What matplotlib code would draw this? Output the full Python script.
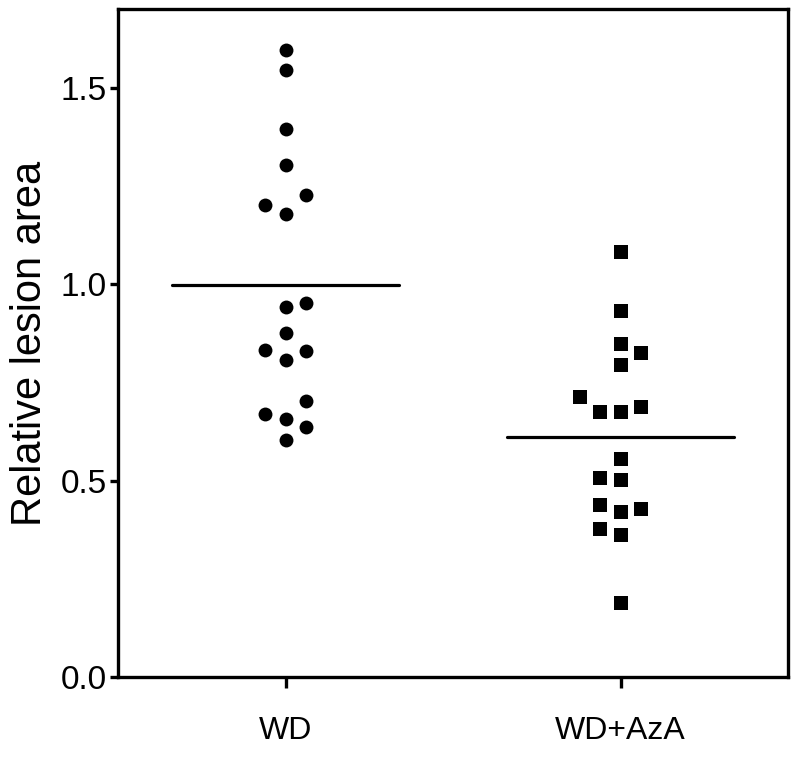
import matplotlib.pyplot as plt
import numpy as np

plt.rcParams['font.family'] = ['Liberation Sans', 'DejaVu Sans']

groups = ['WD', 'WD+AzA']

wd_values = [1.597, 1.545, 1.396, 1.304, 1.227, 1.202, 1.178, 0.953, 0.941,
             0.877, 0.833, 0.829, 0.806, 0.703, 0.670, 0.656, 0.637, 0.603]
wd_cols = [0, 0, 0, 0, 1, -1, 0, 1, 0, 0, -1, 1, 0, 1, -1, 0, 1, 0]

aza_values = [1.083, 0.931, 0.848, 0.826, 0.795, 0.714, 0.676, 0.676, 0.688,
              0.555, 0.506, 0.502, 0.438, 0.420, 0.429, 0.376, 0.363, 0.189]
aza_cols = [0, 0, 0, 1, 0, -2, -1, 0, 1, 0, -1, 0, -1, 0, 1, -1, 0, 0]

fig = plt.figure(figsize=(8, 7.6), dpi=100)
ax = fig.add_axes([0.1475, 0.109, 0.8375, 0.879])

step = 0.06
half = 0.34
for i, (vals, cols, mk) in enumerate([(wd_values, wd_cols, 'o'),
                                       (aza_values, aza_cols, 's')]):
    x = i + 1 + np.array(cols) * step
    ax.plot(x, vals, linestyle='none', marker=mk, color='black',
            markersize=10 if mk == 'o' else 10.5, markeredgewidth=0)
    m = np.mean(vals)
    ax.plot([i + 1 - half, i + 1 + half], [m, m], color='black', lw=2.3,
            solid_capstyle='round')

ax.set_xlim(0.5, 2.5)
ax.set_ylim(0, 1.7)
ax.set_yticks([0.0, 0.5, 1.0, 1.5])
ax.set_yticklabels(['0.0', '0.5', '1.0', '1.5'])
ax.set_xticks([1, 2])
ax.set_xticklabels(groups)

for s in ax.spines.values():
    s.set_linewidth(2.4)
ax.tick_params(axis='y', length=6, width=2.4, labelsize=24, pad=2)
ax.tick_params(axis='x', length=8, width=2.4, labelsize=23, pad=20)
ax.set_ylabel('Relative lesion area', fontsize=30, labelpad=8)

plt.savefig('out.png', dpi=100)
